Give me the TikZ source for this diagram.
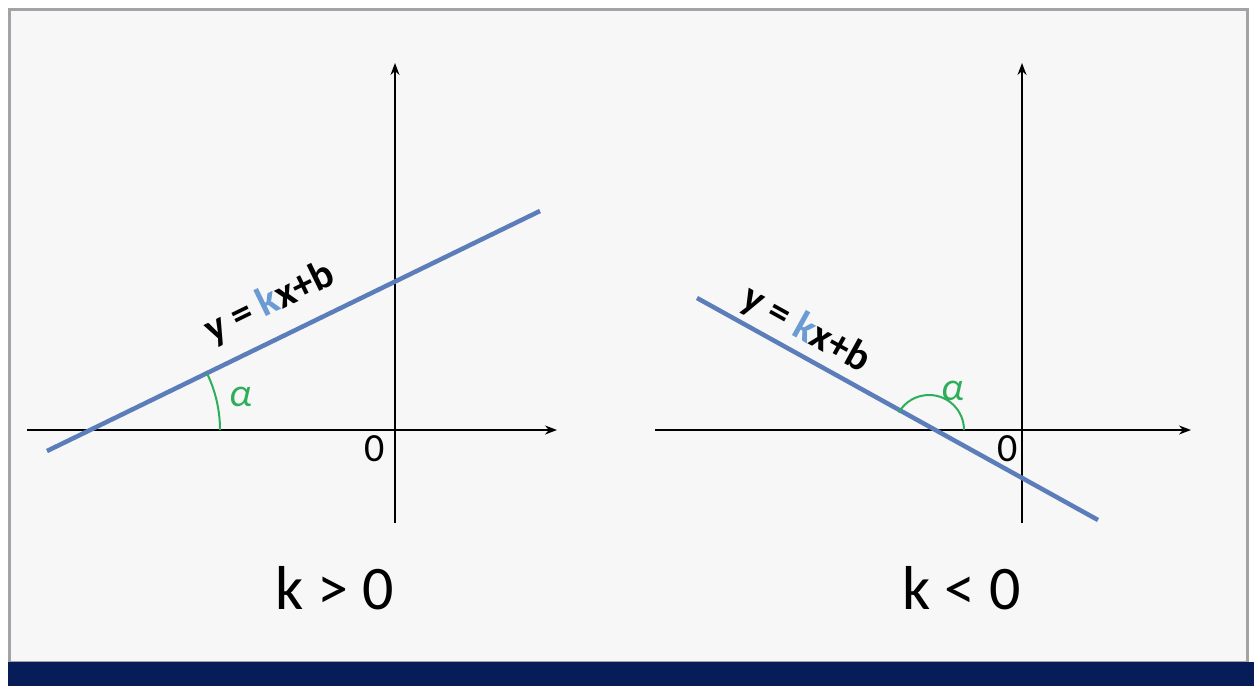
\documentclass[tikz,border=0pt]{standalone}
\usepackage{fontspec}
\setmainfont{Carlito}
\usetikzlibrary{arrows.meta}
\definecolor{bgc}{HTML}{F7F7F7}
\definecolor{framec}{HTML}{A3A3A7}
\definecolor{navy}{HTML}{071D58}
\definecolor{linec}{HTML}{5B7DBA}
\definecolor{kc}{HTML}{6A9BD3}
\definecolor{alphac}{HTML}{2EAE5A}
\tikzset{
  axis/.style={line width=1.5pt, -{Stealth[length=12pt,width=9pt]}},
  graph/.style={line width=4.5pt, linec},
  anglearc/.style={line width=2pt, alphac},
  big/.style={font=\fontsize{62}{66}\selectfont},
  zero/.style={font=\fontsize{40}{44}\selectfont},
  eq/.style={font=\fontsize{41}{44}\selectfont\bfseries, inner sep=0pt},
  alph/.style={font=\fontsize{40}{44}\selectfont\itshape, text=alphac, inner sep=0pt}
}
\begin{document}
\begin{tikzpicture}[x=1pt,y=-1pt]
\useasboundingbox (0,0) rectangle (1254,686);
\fill[white] (0,0) rectangle (1254,686);
\fill[bgc, draw=framec, line width=3pt] (9,9) rectangle (1247,662);
\fill[navy] (8,662) rectangle (1254,686);
% left panel
\coordinate (lxa) at (27,430);
\coordinate (lxb) at (557,430);
\coordinate (lya) at (395,523);
\coordinate (lyb) at (395,63);
\draw[axis] (lxa) -- (lxb);
\draw[axis] (lya) -- (lyb);
\coordinate (la) at (47,451);
\coordinate (lb) at (540,211);
\draw[graph] (la) -- (lb);
\coordinate (lo) at (90,430);
\draw[anglearc] ([xshift=130pt]lo) arc[start angle=0, end angle=26, radius=130pt];
\node[alph] (lalpha) at (241,397) {α};
\node[zero] (lzero) at (375,449) {0};
\node[eq, rotate=26] (leq) at (270,303) {y = \textcolor{kc}{k}x+b};
\node[big] (lk) at (335,588) {k > 0};
% right panel
\coordinate (rxa) at (655,430);
\coordinate (rxb) at (1191,430);
\coordinate (rya) at (1022,523);
\coordinate (ryb) at (1022,63);
\draw[axis] (rxa) -- (rxb);
\draw[axis] (rya) -- (ryb);
\coordinate (ra) at (697,298);
\coordinate (rb) at (1098,520);
\draw[graph] (ra) -- (rb);
\coordinate (ro) at (929,430);
\draw[anglearc] ([xshift=35pt]ro) arc[start angle=0, end angle=150, radius=35pt];
\node[alph] (ralpha) at (953,391) {α};
\node[zero] (rzero) at (1008,449) {0};
\node[eq, rotate=-29] (req) at (806,330) {y = \textcolor{kc}{k}x+b};
\node[big] (rk) at (962,588) {k < 0};
\end{tikzpicture}
\end{document}
